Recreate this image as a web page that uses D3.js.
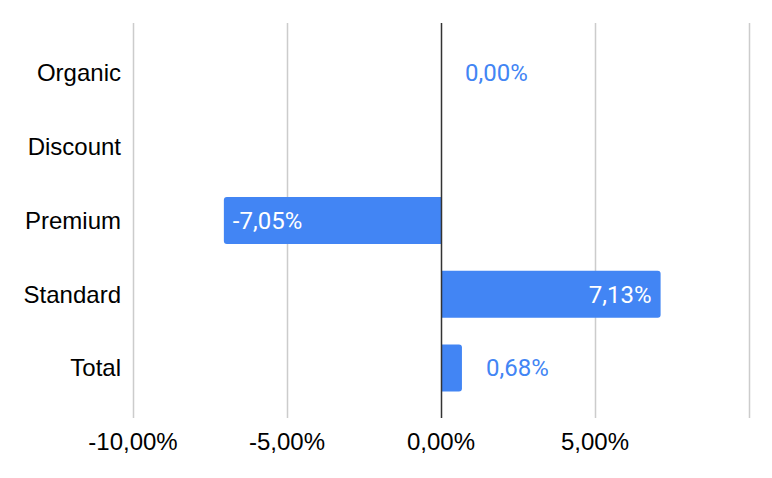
<!DOCTYPE html>
<html lang="en">
<head>
    <meta charset="UTF-8">
    <title>Bar chart</title>
    <style>
        body { margin: 0; background: #fff; }
        svg { display: block; }
    </style>
</head>
<body>
    <svg id="chart" width="772" height="478"></svg>

    <script src="https://d3js.org/d3.v7.min.js"></script>
    <script>
        // chart data
        const categories = ["Organic", "Discount", "Premium", "Standard", "Total"];
        const values = [0.0, null, -7.05, 7.13, 0.68];
        const tickValues = [-10, -5, 0, 5, 10];
        const tickLabels = ["-10,00%", "-5,00%", "0,00%", "5,00%", ""];

        const blue = "#4285f4";
        const fmt = v => v.toFixed(2).replace(".", ",") + "%";

        const svg = d3.select("#chart");

        const x = d3.scaleLinear().domain([-10, 10]).range([133, 749]);
        const y = d3.scaleBand()
            .domain(categories)
            .range([49.5, 391.5])
            .paddingInner(0.363)
            .paddingOuter(0);

        const plotTop = 23, plotBottom = 418;

        // gridlines
        svg.selectAll(".grid")
            .data(tickValues.filter(t => t !== 0))
            .enter()
            .append("line")
            .attr("x1", d => x(d) + 0.5)
            .attr("x2", d => x(d) + 0.5)
            .attr("y1", plotTop)
            .attr("y2", plotBottom)
            .attr("stroke", "#cccccc")
            .attr("stroke-width", 1.5);

        // tick labels
        svg.selectAll(".tick")
            .data(tickValues)
            .enter()
            .append("text")
            .attr("x", d => x(d))
            .attr("y", 450)
            .attr("text-anchor", "middle")
            .attr("font-family", "Liberation Sans, Arial, sans-serif")
            .attr("font-size", 24)
            .attr("fill", "#000")
            .text((d, i) => tickLabels[i]);

        // category labels
        svg.selectAll(".cat")
            .data(categories)
            .enter()
            .append("text")
            .attr("x", 121)
            .attr("y", d => y(d) + y.bandwidth() / 2)
            .attr("dy", "0.35em")
            .attr("text-anchor", "end")
            .attr("font-family", "Liberation Sans, Arial, sans-serif")
            .attr("font-size", 24)
            .attr("fill", "#000")
            .text(d => d);

        // bars with rounded outer corners
        const r = 3;
        function barPath(v, top, h) {
            const x0 = x(0), x1 = x(v);
            const dir = x1 >= x0 ? 1 : -1;
            const w = Math.abs(x1 - x0);
            const rr = Math.min(r, w);
            return `M${x0},${top}` +
                `H${x1 - dir * rr}` +
                `Q${x1},${top} ${x1},${top + rr}` +
                `V${top + h - rr}` +
                `Q${x1},${top + h} ${x1 - dir * rr},${top + h}` +
                `H${x0}Z`;
        }

        const rows = categories.map((c, i) => ({ cat: c, value: values[i] }))
            .filter(d => d.value !== null);

        svg.selectAll(".bar")
            .data(rows.filter(d => d.value !== 0))
            .enter()
            .append("path")
            .attr("d", d => barPath(d.value, y(d.cat), y.bandwidth()))
            .attr("fill", blue);

        // zero line
        svg.append("line")
            .attr("x1", x(0) + 0.5)
            .attr("x2", x(0) + 0.5)
            .attr("y1", plotTop)
            .attr("y2", plotBottom)
            .attr("stroke", "#333")
            .attr("stroke-width", 1.5);

        // value labels: inside long bars, outside short ones
        svg.selectAll(".val")
            .data(rows)
            .enter()
            .append("text")
            .each(function(d) {
                const inside = Math.abs(x(d.value) - x(0)) > 80;
                const t = d3.select(this)
                    .attr("y", y(d.cat) + y.bandwidth() / 2)
                    .attr("dy", "0.35em")
                    .attr("font-family", "Roboto, sans-serif")
                    .attr("font-size", 24)
                    .text(fmt(d.value));
                if (inside) {
                    t.attr("fill", "#fff");
                    if (d.value < 0) {
                        t.attr("x", x(d.value) + 9).attr("text-anchor", "start");
                    } else {
                        t.attr("x", x(d.value) - 9).attr("text-anchor", "end");
                    }
                } else {
                    t.attr("fill", blue)
                        .attr("x", x(d.value) + 24)
                        .attr("text-anchor", "start");
                }
            });
    </script>
</body>
</html>
